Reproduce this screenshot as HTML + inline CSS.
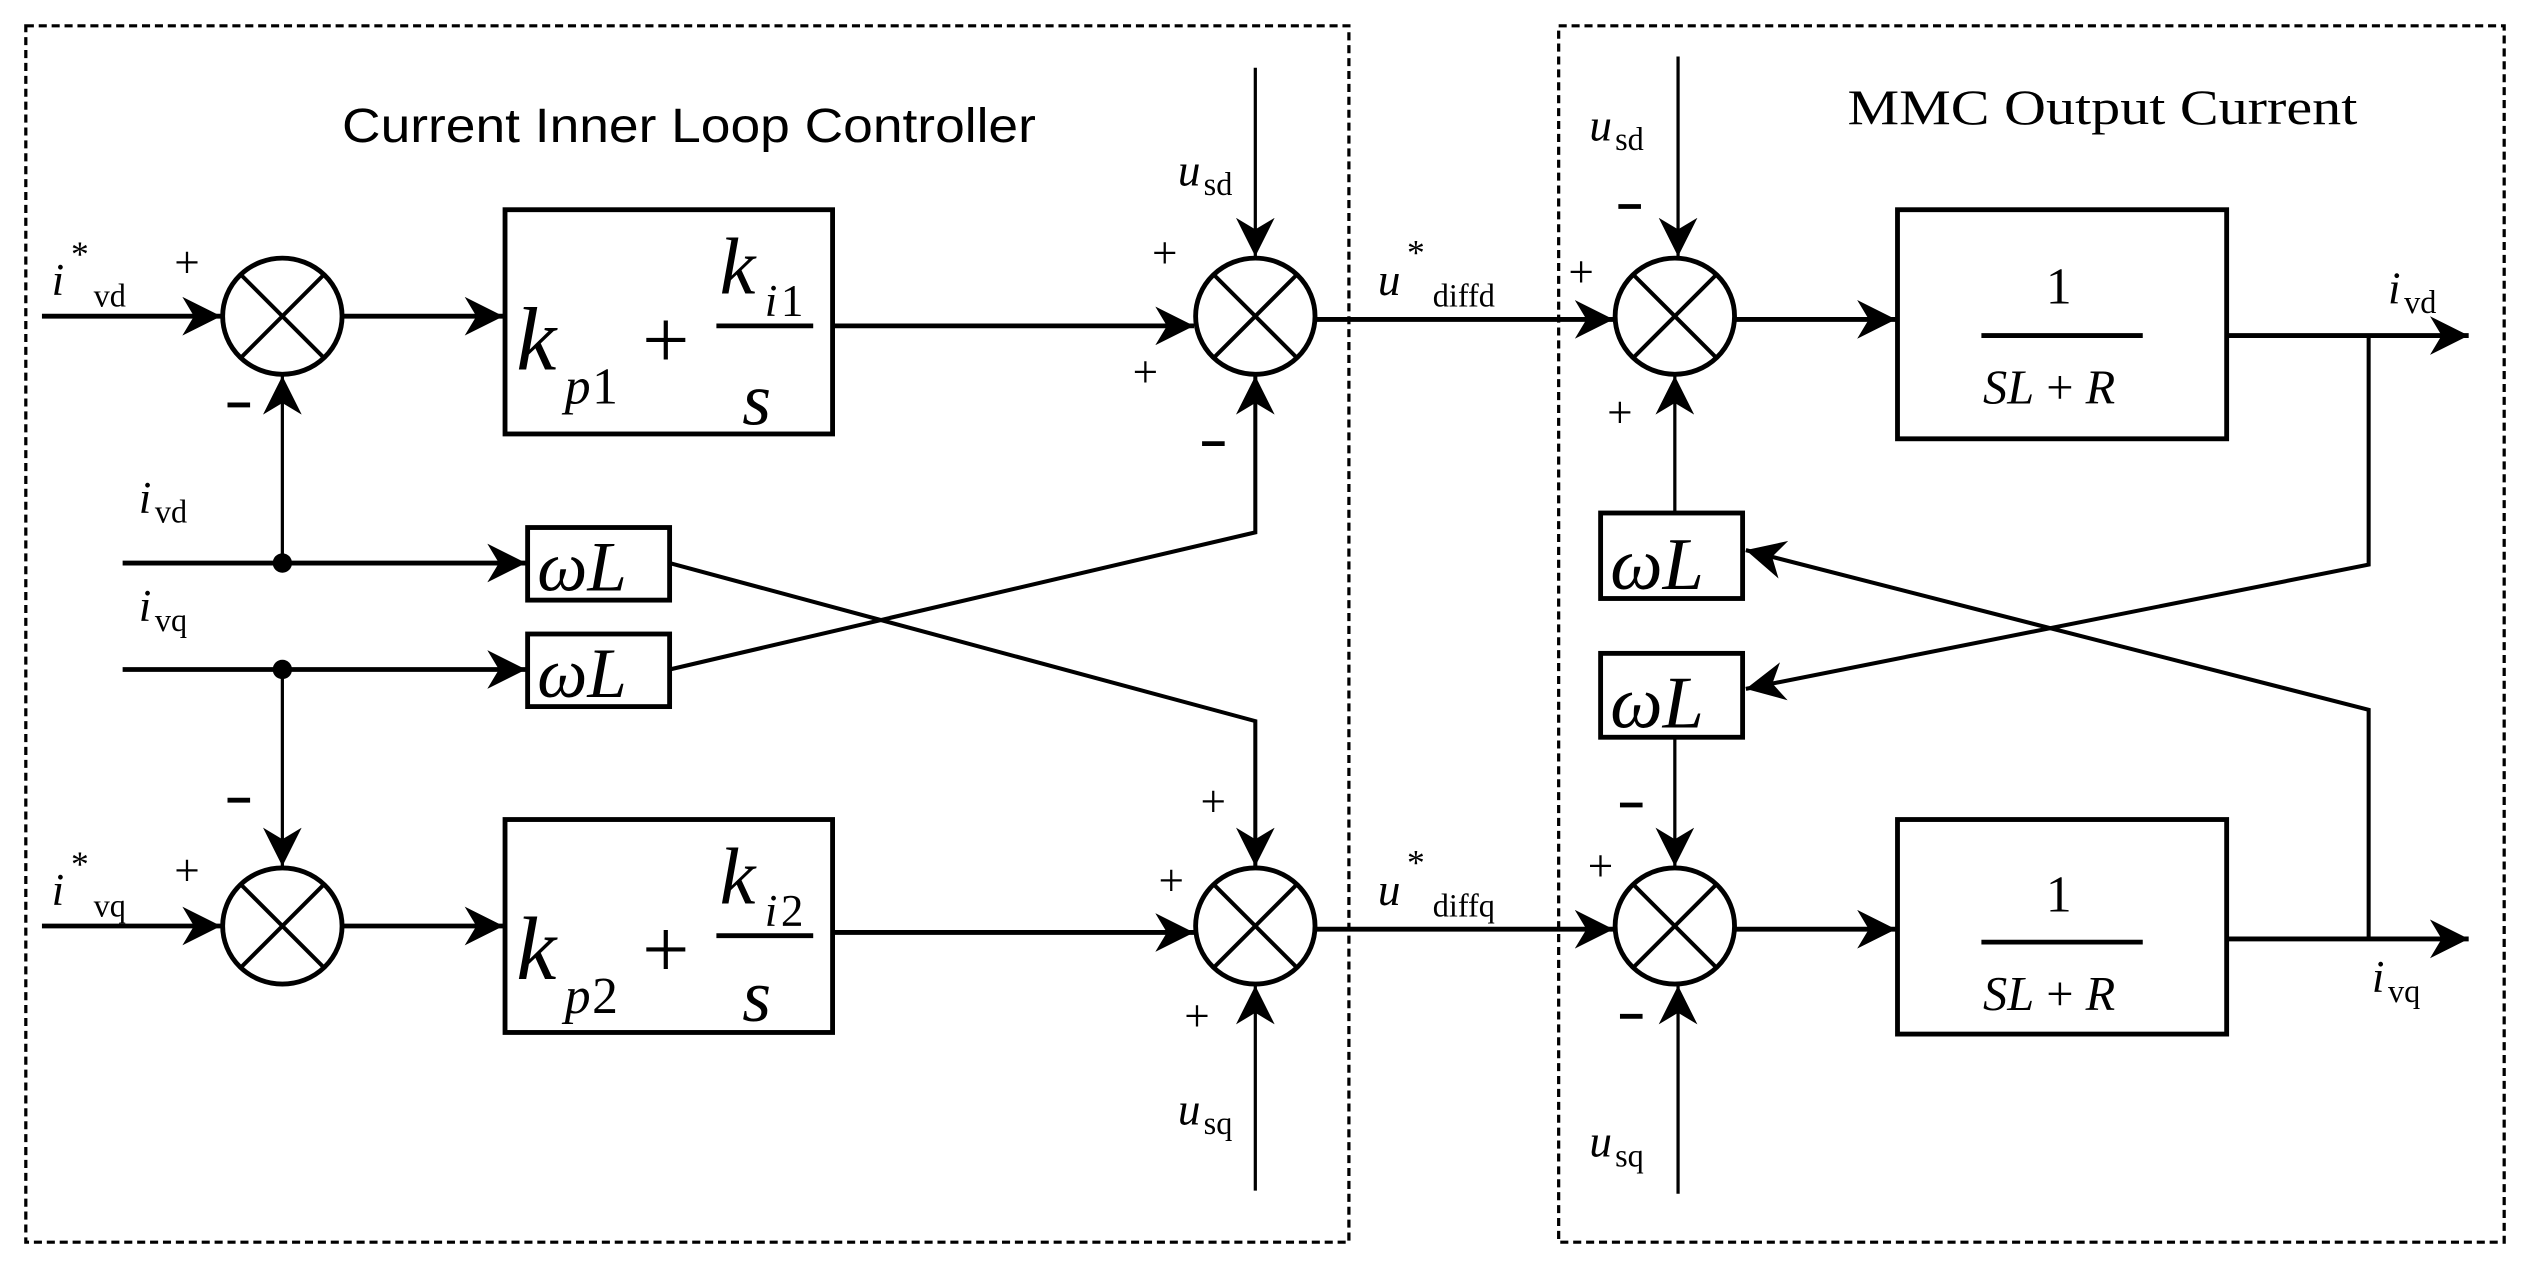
<!DOCTYPE html>
<html><head><meta charset="utf-8"><style>
html,body{margin:0;padding:0;background:#fff}
svg{display:block}
.s{font-family:"Liberation Serif",serif}
.i{font-family:"Liberation Serif",serif;font-style:italic}
</style></head><body>
<svg width="2530" height="1268" viewBox="0 0 1568 786" preserveAspectRatio="none" xmlns="http://www.w3.org/2000/svg">
<defs>
<marker id="a" viewBox="0 0 10 10" refX="10" refY="5" markerWidth="24" markerHeight="24" markerUnits="userSpaceOnUse" orient="auto">
<path d="M0,0 L10,5 L0,10 L3,5 z" fill="#000"/></marker>
</defs>
<g fill="none" stroke="#000" stroke-width="2" stroke-dasharray="5,3">
<rect x="16" y="16" width="820" height="754"/>
<rect x="966" y="16" width="586" height="754"/>
</g>
<text x="212" y="88" font-family="Liberation Sans Narrow, Liberation Sans, sans-serif" font-size="30" textLength="430" lengthAdjust="spacingAndGlyphs">Current Inner Loop Controller</text>
<text x="1145" y="77" class="s" font-size="31" textLength="316" lengthAdjust="spacingAndGlyphs">MMC Output Current</text>

<g fill="#fff" stroke="#000" stroke-width="3">
<ellipse cx="175" cy="196" rx="37" ry="36"/>
<ellipse cx="778" cy="196" rx="37" ry="36"/>
<ellipse cx="1038" cy="196" rx="37" ry="36"/>
<ellipse cx="175" cy="574" rx="37" ry="36"/>
<ellipse cx="778" cy="574" rx="37" ry="36"/>
<ellipse cx="1038" cy="574" rx="37" ry="36"/>
<rect x="313" y="130" width="203" height="139"/>
<rect x="313" y="508" width="203" height="132"/>
<rect x="1176" y="130" width="204" height="142"/>
<rect x="1176" y="508" width="204" height="133"/>
<rect x="327" y="327" width="88" height="45"/>
<rect x="327" y="393" width="88" height="45"/>
<rect x="992" y="318" width="88" height="53"/>
<rect x="992" y="405" width="88" height="52"/>
</g>
<g stroke="#000" stroke-width="2.5">
<path d="M149,170 L201,222 M201,170 L149,222"/>
<path d="M752,170 L804,222 M804,170 L752,222"/>
<path d="M1012,170 L1064,222 M1064,170 L1012,222"/>
<path d="M149,548 L201,600 M201,548 L149,600"/>
<path d="M752,548 L804,600 M804,548 L752,600"/>
<path d="M1012,548 L1064,600 M1064,548 L1012,600"/>
</g>
<g stroke="#000" stroke-width="3" fill="none" marker-end="url(#a)">
<path d="M26,196 H137"/>
<path d="M212,196 H312"/>
<path d="M516,202 H740"/>
<path d="M815,198 H1000"/>
<path d="M1075,198 H1175"/>
<path d="M1380,208 H1530"/>
<path d="M26,574 H137"/>
<path d="M212,574 H312"/>
<path d="M516,578 H740"/>
<path d="M815,576 H1000"/>
<path d="M1075,576 H1175"/>
<path d="M1380,582 H1530"/>
<path d="M76,349 H326"/>
<path d="M76,415 H326"/>
<path d="M415,349 L778,447 V537" stroke-width="2.5"/>
<path d="M415,415 L778,330 V233" stroke-width="2.5"/>
<path d="M175,349 V233" stroke-width="2"/>
<path d="M175,415 V537" stroke-width="2"/>
<path d="M778,42 V159" stroke-width="2"/>
<path d="M778,738 V611" stroke-width="2"/>
<path d="M1040,35 V159" stroke-width="2"/>
<path d="M1040,740 V611" stroke-width="2"/>
<path d="M1038,317 V233" stroke-width="2"/>
<path d="M1038,457 V537" stroke-width="2"/>
<path d="M1468,208 V350 L1082,427" stroke-width="2.5"/>
<path d="M1468,582 V440 L1082,341" stroke-width="2.5"/>
</g>
<circle cx="175" cy="349" r="6"/>
<circle cx="175" cy="415" r="6"/>

<g class="i">
<text x="320" y="229" font-size="56">k</text>
<text x="350" y="250" font-size="32">p</text>
<text x="446" y="182" font-size="50">k</text>
<text x="474" y="196" font-size="28">i</text>
<text x="460" y="263" font-size="46">s</text>
<text x="320" y="607" font-size="56">k</text>
<text x="350" y="628" font-size="32">p</text>
<text x="446" y="560" font-size="50">k</text>
<text x="474" y="574" font-size="28">i</text>
<text x="460" y="633" font-size="46">s</text>
<text x="333" y="366" font-size="44">ωL</text>
<text x="333" y="432" font-size="44">ωL</text>
<text x="998" y="365" font-size="46">ωL</text>
<text x="998" y="451" font-size="46">ωL</text>
</g>
<text x="1229" y="250" font-size="30" class="s"><tspan font-style="italic">SL</tspan> + <tspan font-style="italic">R</tspan></text>
<text x="1229" y="626" font-size="30" class="s"><tspan font-style="italic">SL</tspan> + <tspan font-style="italic">R</tspan></text>
<g class="s">
<text x="367" y="250" font-size="32">1</text>
<text x="484" y="196" font-size="28">1</text>
<text x="367" y="628" font-size="32">2</text>
<text x="484" y="574" font-size="28">2</text>
<text x="398" y="228" font-size="52">+</text>
<text x="398" y="606" font-size="52">+</text>
<text x="1268" y="188" font-size="32">1</text>
<text x="1268" y="565" font-size="32">1</text>
</g>
<g stroke="#000" stroke-width="3">
<path d="M444,202 H504 M444,580 H504 M1228,208 H1328 M1228,584 H1328"/>
</g>

<g font-size="28">
<text x="32" y="183" class="i">i</text><text x="44" y="165" class="s" font-size="22">*</text><text x="58" y="190" class="s" font-size="20">vd</text>
<text x="32" y="561" class="i">i</text><text x="44" y="543" class="s" font-size="22">*</text><text x="58" y="568" class="s" font-size="20">vq</text>
<text x="86" y="318" class="i">i</text><text x="96" y="324" class="s" font-size="20">vd</text>
<text x="86" y="385" class="i">i</text><text x="96" y="391" class="s" font-size="20">vq</text>
<text x="730" y="115" class="i">u</text><text x="746" y="121" class="s" font-size="20">sd</text>
<text x="730" y="697" class="i">u</text><text x="746" y="703" class="s" font-size="20">sq</text>
<text x="985" y="87" class="i">u</text><text x="1001" y="93" class="s" font-size="20">sd</text>
<text x="985" y="717" class="i">u</text><text x="1001" y="723" class="s" font-size="20">sq</text>
<text x="854" y="183" class="i">u</text><text x="872" y="164" class="s" font-size="22">*</text><text x="888" y="190" class="s" font-size="20">diffd</text>
<text x="854" y="561" class="i">u</text><text x="872" y="542" class="s" font-size="22">*</text><text x="888" y="568" class="s" font-size="20">diffq</text>
<text x="1480" y="188" class="i">i</text><text x="1490" y="194" class="s" font-size="20">vd</text>
<text x="1470" y="615" class="i">i</text><text x="1480" y="621" class="s" font-size="20">vq</text>
</g>
<g class="s" font-size="28">
<text x="108" y="172">+</text>
<text x="714" y="166">+</text>
<text x="702" y="240">+</text>
<text x="972" y="178">+</text>
<text x="996" y="265">+</text>
<text x="108" y="549">+</text>
<text x="744" y="506">+</text>
<text x="718" y="555">+</text>
<text x="734" y="639">+</text>
<text x="984" y="546">+</text>
</g>
<g stroke="#000" stroke-width="3">
<path d="M141,251 H155 M745,275 H759 M1003,128 H1017 M141,496 H155 M1004,499 H1018 M1004,630 H1018"/>
</g>
</svg>
</body></html>
